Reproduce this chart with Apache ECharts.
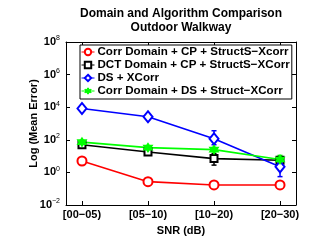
<!DOCTYPE html>
<html><head><meta charset="utf-8">
<script src="https://cdn.jsdelivr.net/npm/echarts@6/dist/echarts.min.js"></script>
<style>html,body{margin:0;padding:0;background:#fff}#c{width:312px;height:241px}</style>
</head><body><div id="c"></div>
<script>
const categories = ['[00−05)', '[05−10)', '[10−20)', '[20−30)'];
const seriesNames = [
  'Corr Domain + CP + StructS−Xcorr',
  'DCT Domain + CP + StructS−XCorr',
  'DS + XCorr',
  'Corr Domain + DS + Struct−XCorr'
];
const redVals   = [5, 0.27, 0.17, 0.17];
const blackVals = [50, 18, 7, 5.6];
const blueVals  = [8300, 2600, 115, 2.2];
const greenVals = [72, 33, 25, 6.2];
const blackLow  = [40, 12, 2.8, 4.5];
const blackHigh = [62, 25, 14, 7];
const blueLow   = [6000, 1800, 50, 0.55];
const blueHigh  = [11000, 3600, 360, 6];
const greenLow  = [58, 27, 19, 4.5];
const greenHigh = [90, 40, 32, 11];

const FONT = 'Liberation Sans';
const pos = categories.map((c, i) => i + 1);
const toXY = vals => vals.map((v, i) => [pos[i], v]);
const toErr = (lo, hi) => lo.map((l, i) => [pos[i], l, hi[i]]);

function errSeries(name, color, lo, hi) {
  return {
    type: 'custom', name: name + ' err', data: toErr(lo, hi), z: 3,
    encode: { x: 0, y: [1, 2] },
    renderItem: function (params, api) {
      const x = api.value(0);
      const p1 = api.coord([x, api.value(1)]);
      const p2 = api.coord([x, api.value(2)]);
      const w = 2.5;
      const st = { stroke: color, lineWidth: 1.5 };
      return { type: 'group', children: [
        { type: 'line', shape: { x1: p1[0], y1: p1[1], x2: p2[0], y2: p2[1] }, style: st },
        { type: 'line', shape: { x1: p1[0] - w, y1: p1[1], x2: p1[0] + w, y2: p1[1] }, style: st },
        { type: 'line', shape: { x1: p2[0] - w, y1: p2[1], x2: p2[0] + w, y2: p2[1] }, style: st }
      ]};
    }
  };
}
function lineSeries(name, color, vals, symbol, size) {
  return {
    type: 'line', name: name, data: toXY(vals), z: 4,
    symbol: symbol, symbolSize: size, showSymbol: true,
    lineStyle: { color: color, width: 1.6 },
    itemStyle: { color: color, borderColor: color, borderWidth: 1.6 }
  };
}
const hexagram = 'path://M0,-10 L2.9,-5 L8.7,-5 L5.8,0 L8.7,5 L2.9,5 L0,10 L-2.9,5 L-8.7,5 L-5.8,0 L-8.7,-5 L-2.9,-5 Z';

const chart = echarts.init(document.getElementById('c'), null, { renderer: 'canvas' });
const xBase = {
  type: 'value', min: 0.758, max: 4.242,
  axisLine: { show: true, onZero: false, lineStyle: { color: '#000', width: 1 } },
  axisTick: { show: true, inside: true, length: 4, customValues: pos, lineStyle: { color: '#000' } },
  splitLine: { show: false }
};
const yBase = {
  type: 'log', logBase: 10, min: 0.01, max: 1e8, interval: 2,
  axisLine: { show: true, onZero: false, lineStyle: { color: '#000', width: 1 } },
  axisTick: { show: true, inside: true, length: 4, lineStyle: { color: '#000' } },
  minorTick: { show: false },
  splitLine: { show: false }
};
chart.setOption({
  animation: false,
  backgroundColor: '#fff',
  textStyle: { fontFamily: FONT },
  grid: { left: 66, right: 16, top: 42, bottom: 34 },
  graphic: [
    { type: 'text', x: 181, y: 14, style: { text: 'Domain and Algorithm Comparison', align: 'center', verticalAlign: 'middle', font: 'bold 12px "Liberation Sans"', fill: '#000' } },
    { type: 'text', x: 181, y: 28, style: { text: 'Outdoor Walkway', align: 'center', verticalAlign: 'middle', font: 'bold 12px "Liberation Sans"', fill: '#000' } }
  ],
  legend: {
    data: seriesNames, orient: 'vertical', left: 80, top: 45,
    backgroundColor: '#fff', borderColor: '#000', borderWidth: 1,
    padding: [1, 2, 2, 1], itemGap: 1, itemWidth: 13, itemHeight: 8,
    itemStyle: { borderWidth: 1 },
    lineStyle: { width: 1 },
    textStyle: { fontFamily: FONT, fontWeight: 'bold', fontSize: 11.6, color: '#000', padding: [0, 0, 0, -2] }
  },
  xAxis: [
    Object.assign({}, xBase, {
      position: 'bottom',
      axisLabel: { customValues: pos, formatter: v => categories[Math.round(v) - 1], margin: 4, color: '#000', fontFamily: FONT, fontWeight: 'bold', fontSize: 11 },
      name: 'SNR (dB)', nameLocation: 'middle', nameGap: 20, nameMoveOverlap: false,
      nameTextStyle: { fontFamily: FONT, fontWeight: 'bold', fontSize: 11, color: '#000' }
    }),
    Object.assign({}, xBase, { position: 'top', axisLabel: { show: false } })
  ],
  yAxis: [
    Object.assign({}, yBase, {
      position: 'left',
      axisLabel: {
        margin: 6, color: '#000',
        formatter: v => { const e = Math.round(Math.log10(v)); return '{b|10}{e|' + (e < 0 ? '−' + (-e) : e) + '}'; },
        rich: {
          b: { fontFamily: FONT, fontWeight: 'bold', fontSize: 11, color: '#000', lineHeight: 14 },
          e: { fontFamily: FONT, fontSize: 7, color: '#000', verticalAlign: 'top', lineHeight: 14 }
        }
      },
      name: 'Log (Mean Error)', nameLocation: 'middle', nameGap: 27, nameRotate: 90, nameMoveOverlap: false,
      nameTextStyle: { fontFamily: FONT, fontWeight: 'bold', fontSize: 11, color: '#000' }
    }),
    Object.assign({}, yBase, { position: 'right', axisLabel: { show: false } })
  ],
  series: [
    lineSeries(seriesNames[0], '#ff0000', redVals, 'emptyCircle', 9),
    lineSeries(seriesNames[1], '#000000', blackVals, 'emptyRect', 7),
    errSeries(seriesNames[1], '#000000', blackLow, blackHigh),
    lineSeries(seriesNames[2], '#0000ff', blueVals, 'emptyDiamond', [9, 11]),
    errSeries(seriesNames[2], '#0000ff', blueLow, blueHigh),
    lineSeries(seriesNames[3], '#00ff00', greenVals, hexagram, 8),
    errSeries(seriesNames[3], '#00ff00', greenLow, greenHigh)
  ]
});
</script></body></html>
